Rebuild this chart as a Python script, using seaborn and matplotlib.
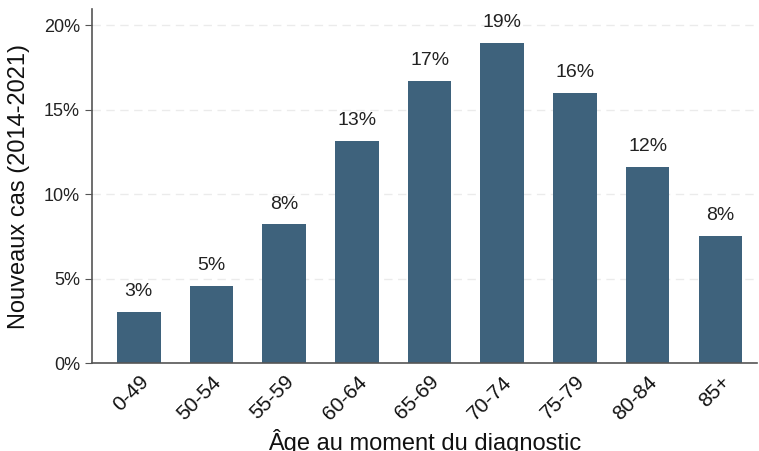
import matplotlib
matplotlib.use('Agg')
import matplotlib.pyplot as plt
import seaborn as sns
import pandas as pd
from matplotlib.ticker import FuncFormatter

bar_color = '#3e627c'

age_groups = ['0-49', '50-54', '55-59', '60-64', '65-69', '70-74', '75-79', '80-84', '85+']
share = [3.05, 4.55, 8.2, 13.15, 16.7, 18.95, 16.0, 11.6, 7.5]
labels = ['3%', '5%', '8%', '13%', '17%', '19%', '16%', '12%', '8%']

df = pd.DataFrame({'age': age_groups, 'share': share})

sns.set_style('white')
plt.rcParams['font.family'] = ['Liberation Sans', 'DejaVu Sans']

fig = plt.figure(figsize=(7.59, 4.51), dpi=100)
ax = fig.add_axes([0.121, 0.195, 0.876, 0.785])

sns.barplot(data=df, x='age', y='share', color=bar_color, saturation=1, width=0.6,
            linewidth=0, ax=ax)

for i, (v, lab) in enumerate(zip(share, labels)):
    ax.text(i, v + 0.7, lab, ha='center', va='bottom', fontsize=14, color='#222222')

ax.set_xlim(-0.646, 8.5)
ax.set_ylim(0, 20.95)
ax.set_yticks([0, 5, 10, 15, 20])
ax.yaxis.set_major_formatter(FuncFormatter(lambda v, p: f'{int(v)}%'))
ax.grid(axis='y', color='#ebebeb', ls=(0, (6, 4)), lw=1)
ax.set_axisbelow(True)

for s in ['top', 'right']:
    ax.spines[s].set_visible(False)
for s in ['left', 'bottom']:
    ax.spines[s].set_color('#555555')
    ax.spines[s].set_linewidth(1.2)

ax.tick_params(axis='y', left=True, length=5, color='#555555', labelsize=13, labelcolor='#222222')
ax.tick_params(axis='x', bottom=False, labelsize=15, labelcolor='#111111', pad=3)
plt.setp(ax.get_xticklabels(), rotation=45, ha='right', rotation_mode='anchor')

ax.set_xlabel('Âge au moment du diagnostic', fontsize=17, color='#111111', labelpad=4)
ax.set_ylabel('Nouveaux cas (2014-2021)', fontsize=17, color='#111111', labelpad=10)

plt.savefig('out.png', dpi=100)
